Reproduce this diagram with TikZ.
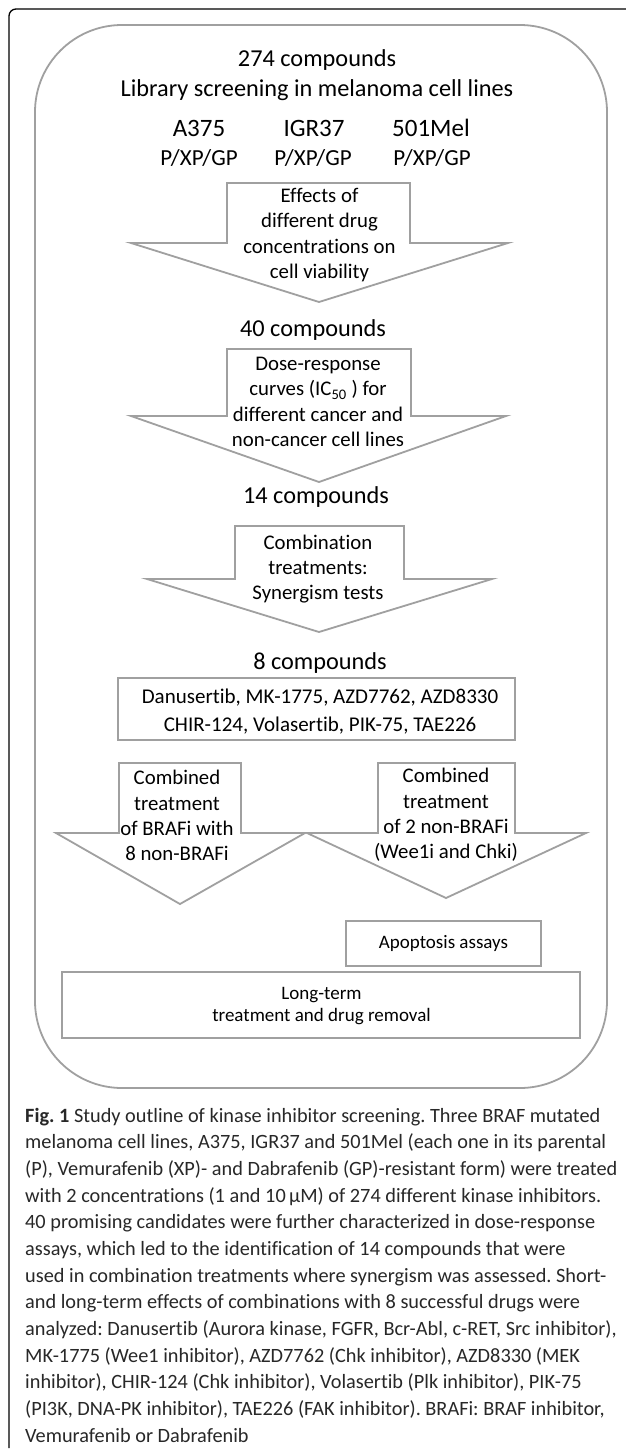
\documentclass[tikz,border=0pt]{standalone}
\usepackage{fontspec}
\setmainfont{Carlito}[Ligatures=NoCommon]
\frenchspacing
\definecolor{lg}{RGB}{160,160,160}
\definecolor{captxt}{RGB}{40,40,40}
\newcommand\blockarrow[8]{%
  \draw[garrow] (#1,#3) -- (#2,#3) -- (#2,#4) -- (#6,#4) -- (#7,#8) -- (#5,#4) -- (#1,#4) -- cycle;}
\tikzset{
  garrow/.style={draw=lg, line width=1.8pt, fill=white, line join=miter},
  gbox/.style={draw=lg, line width=1.8pt, inner sep=0pt},
  ttl/.style={inner sep=0pt, font=\fontsize{24.3}{29}\selectfont},
  cell/.style={inner sep=0pt, font=\fontsize{25}{30}\selectfont},
  sub/.style={inner sep=0pt, font=\fontsize{23}{28}\selectfont},
  atext/.style={inner sep=0pt, align=center, font=\fontsize{20.8}{25.3}\selectfont},
  btext/.style={inner sep=0pt, align=center, font=\fontsize{19}{22.5}\selectfont},
  dtext/.style={inner sep=0pt, align=center, font=\fontsize{21}{28}\selectfont},
  capt/.style={inner sep=0pt, align=left, text=captxt, font=\fontsize{20.3}{26.67}\selectfont}
}
\begin{document}
\begin{tikzpicture}[x=1pt,y=-1pt]
\useasboundingbox (0,0) rectangle (625,1451);
\fill[white] (0,0) rectangle (625,1451);
% outer frame
\draw[black, line width=1.3pt, rounded corners=7pt] (9,1448) -- (9,9) -- (626,9);
% panel
\node[gbox, rounded corners=87pt, minimum width=572pt, minimum height=1063pt] (panel) at (321,556.5) {};
% titles
\node[ttl] (t274) at (317,60) {274 compounds};
\node[ttl] (tlib) at (317,90) {Library screening in melanoma cell lines};
\node[cell] (ca) at (199,128) {A375};
\node[cell] (cb) at (314,128) {IGR37};
\node[cell] (cc) at (431,128) {501Mel};
\node[sub] (pa) at (199,158) {P/XP/GP};
\node[sub] (pb) at (313,158) {P/XP/GP};
\node[sub] (pc) at (432,158) {P/XP/GP};
% arrow 1
\blockarrow{227}{410}{183}{243}{131}{508}{319}{302}
\node[atext] (a1) at (319.5,235) {Effects of\\different drug\\concentrations on\\cell viability};
\node[ttl] (t40) at (313,330) {40 compounds};
% arrow 2
\blockarrow{227}{411}{349}{416}{131}{506}{319}{482}
\node[atext] (a2) at (318,402) {Dose-response\\curves (IC\textsubscript{50} ) for\\different cancer and\\non-cancer cell lines};
\node[ttl] (t14) at (316,497) {14 compounds};
% arrow 3
\blockarrow{235}{404}{526}{579}{147}{492}{319}{632}
\node[atext] (a3) at (318,569) {Combination\\treatments:\\Synergism tests};
\node[ttl] (t8) at (320,663) {8 compounds};
% drugs box
\node[gbox, minimum width=397pt, minimum height=62pt] (drugbox) at (316.5,709) {};
\node[dtext] (drugs) at (320,712) {Danusertib, MK-1775, AZD7762, AZD8330\\CHIR-124, Volasertib, PIK-75, TAE226};
% arrows 4 and 5
\blockarrow{119}{241}{763}{833}{56}{305}{180}{904}
\node[atext] (a4) at (177,815.5) {Combined\\treatment\\of BRAFi with\\8 non-BRAFi};
\blockarrow{378}{515}{763}{833}{307}{586}{446}{898}
\node[atext] (a5) at (446,815) {Combined\\treatment\\of 2 non-BRAFi\\(Wee1i and Chki)};
% apoptosis
\node[gbox, minimum width=195pt, minimum height=45pt, btext] (apop) at (443.5,943.5) {Apoptosis assays};
% long-term
\node[gbox, minimum width=518pt, minimum height=66pt] (longbox) at (321,1005) {};
\node[btext] (long) at (321.5,1006) {Long-term\\treatment and drug removal};
% caption
\node[capt, anchor=west] (cap) at (25,1275) {\textbf{Fig. 1} Study outline of kinase inhibitor screening. Three BRAF mutated\\
melanoma cell lines, A375, IGR37 and 501Mel (each one in its parental\\
(P), Vemurafenib (XP)- and Dabrafenib (GP)-resistant form) were treated\\
with 2 concentrations (1 and 10\,μM) of 274 different kinase inhibitors.\\
40 promising candidates were further characterized in dose-response\\
assays, which led to the identification of 14 compounds that were\\
used in combination treatments where synergism was assessed. Short-\\
and long-term effects of combinations with 8 successful drugs were\\
analyzed: Danusertib (Aurora kinase, FGFR, Bcr-Abl, c-RET, Src inhibitor),\\
MK-1775 (Wee1 inhibitor), AZD7762 (Chk inhibitor), AZD8330 (MEK\\
inhibitor), CHIR-124 (Chk inhibitor), Volasertib (Plk inhibitor), PIK-75\\
(PI3K, DNA-PK inhibitor), TAE226 (FAK inhibitor). BRAFi: BRAF inhibitor,\\
Vemurafenib or Dabrafenib};
\end{tikzpicture}
\end{document}
